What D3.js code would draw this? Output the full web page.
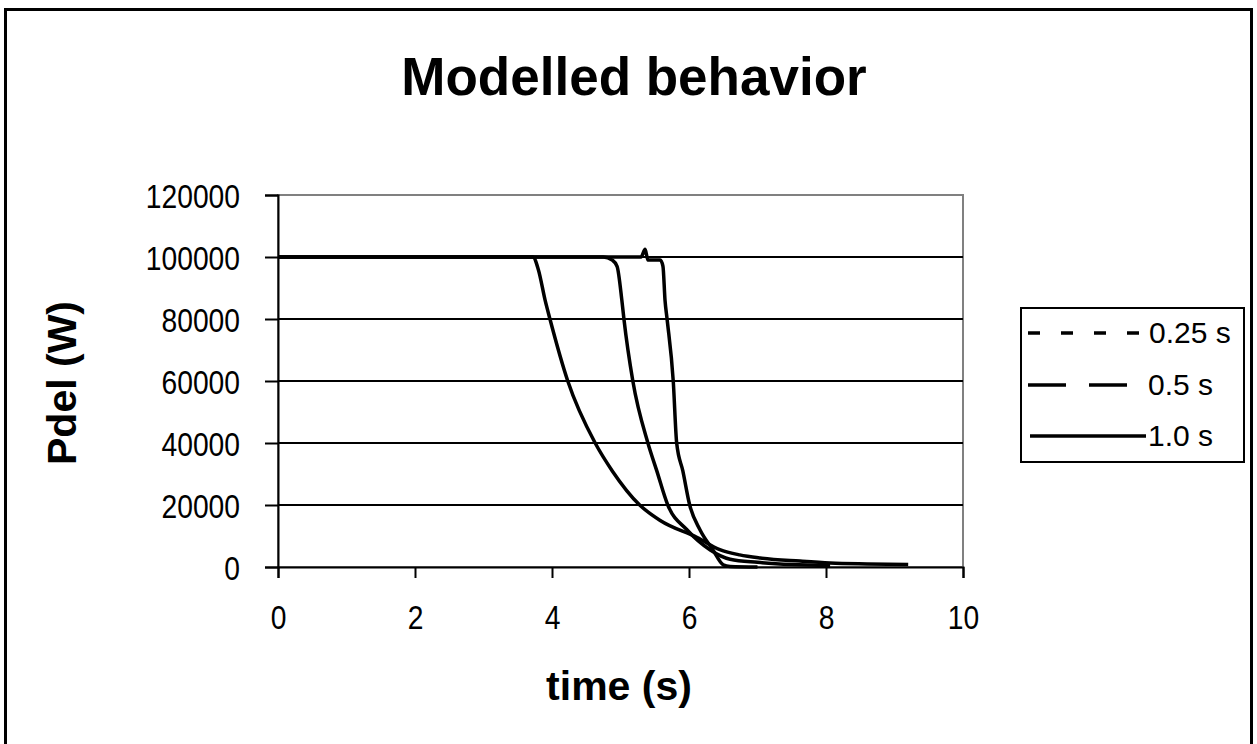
<!DOCTYPE html>
<html><head><meta charset="utf-8">
<script src="https://cdn.jsdelivr.net/npm/d3@7/dist/d3.min.js"></script>
<style>body{margin:0;background:#fff}svg{display:block}</style>
</head><body>
<svg id="c" width="1257" height="744"></svg>
<script>
// ---- data ----
const xTicks = [0, 2, 4, 6, 8, 10];
const yTicks = [0, 20000, 40000, 60000, 80000, 100000, 120000];
const seriesNames = ["0.25 s", "0.5 s", "1.0 s"];
const t025 = [0, 5.30, 5.36, 5.40, 5.58, 5.62, 5.65, 5.68, 5.77, 5.82, 5.91, 6.01, 6.16, 6.35, 6.50, 6.60, 7.00];
const p025 = [100000, 100000, 102500, 99000, 99000, 97000, 86000, 80000, 60000, 40000, 31000, 20000, 12000, 5500, 700, 200, 0];
const t05 = [0, 4.75, 4.88, 4.95, 5.02, 5.05, 5.18, 5.40, 5.53, 5.69, 5.97, 6.31, 6.60, 7.00, 7.50, 8.06];
const p05 = [100000, 100000, 99000, 97000, 86000, 80000, 60000, 40000, 31000, 20000, 12000, 5500, 2500, 1500, 800, 500];
const t10 = [0, 3.72, 3.80, 3.90, 3.97, 4.23, 4.63, 4.88, 5.28, 5.58, 6.12, 6.45, 6.74, 7.04, 7.62, 8.06, 8.60, 9.20];
const p10 = [100000, 100000, 96000, 86000, 80000, 60000, 40000, 31000, 20000, 15000, 9500, 5600, 3900, 2900, 1900, 1300, 1000, 800];

const svg = d3.select("#c");
const F = "'Liberation Sans', Arial, sans-serif";

// outer frame
svg.append("rect").attr("x", 5.5).attr("y", 9.5).attr("width", 1246).attr("height", 760)
  .attr("fill", "none").attr("stroke", "#000").attr("stroke-width", 3);

const x = d3.scaleLinear().domain([0, 10]).range([278, 963]);
const y = d3.scaleLinear().domain([0, 120000]).range([567, 195]);

// plot border (top/right gray)
svg.append("rect").attr("x", x(0)).attr("y", y(120000)).attr("width", x(10) - x(0)).attr("height", y(0) - y(120000))
  .attr("fill", "none").attr("stroke", "#808080").attr("stroke-width", 2);

// gridlines
svg.append("g").selectAll("line").data(yTicks.filter(d => d > 0 && d < 120000)).join("line")
  .attr("x1", x(0)).attr("x2", x(10)).attr("y1", d => y(d)).attr("y2", d => y(d))
  .attr("stroke", "#000").attr("stroke-width", 2);

// axes
const yAxis = svg.append("g").attr("transform", `translate(${x(0)},0)`)
  .call(d3.axisLeft(y).tickValues(yTicks).tickFormat(d3.format("d")).tickSize(13).tickPadding(25));
const xAxis = svg.append("g").attr("transform", `translate(0,${y(0)})`)
  .call(d3.axisBottom(x).tickValues(xTicks).tickFormat(d3.format("d")).tickSize(11).tickPadding(10));
[yAxis, xAxis].forEach(g => {
  g.select(".domain").attr("stroke", "#000").attr("stroke-width", 2);
  g.selectAll(".tick line").attr("stroke", "#000").attr("stroke-width", 2);
  g.selectAll(".tick text").attr("fill", "#000").style("font-family", F).style("font-size", "34px");
});
yAxis.selectAll(".tick text").each(function () {
  const tx = +this.getAttribute("x");
  d3.select(this).attr("x", 0).attr("dy", "0.36em").attr("transform", `translate(${tx},0) scale(0.83,1)`);
});
xAxis.selectAll(".tick text").attr("y", 62).attr("dy", 0).attr("transform", "scale(0.83,1)");

// lines
const line = d3.line().x(d => x(d[0])).y(d => y(d[1])).curve(d3.curveMonotoneX);
const series = [d3.zip(t025, p025), d3.zip(t05, p05), d3.zip(t10, p10)];
svg.append("g").selectAll("path").data(series).join("path")
  .attr("d", line).attr("fill", "none").attr("stroke", "#000").attr("stroke-width", 3.5)
  .attr("stroke-linejoin", "miter");

// titles
svg.append("text").attr("x", 634).attr("y", 95).attr("text-anchor", "middle")
  .style("font-family", F).style("font-size", "53px").style("font-weight", "bold").text("Modelled behavior");
svg.append("text").attr("x", 619).attr("y", 700).attr("text-anchor", "middle")
  .style("font-family", F).style("font-size", "41px").style("font-weight", "bold").text("time (s)");
svg.append("text").attr("transform", "translate(76,383) rotate(-90)").attr("text-anchor", "middle")
  .style("font-family", F).style("font-size", "41px").style("font-weight", "bold").text("Pdel (W)");

// legend
svg.append("rect").attr("x", 1021).attr("y", 308).attr("width", 223).attr("height", 154)
  .attr("fill", "#fff").attr("stroke", "#000").attr("stroke-width", 2);
const dashes = ["12,21", "38,23", null];
const rowY = [333, 385, 436];
const lg = svg.append("g").selectAll("g").data(seriesNames).join("g");
lg.append("line").attr("x1", (d, i) => i === 2 ? 1030 : 1028).attr("x2", (d, i) => i === 2 ? 1146 : (i === 0 ? 1141 : 1128))
  .attr("y1", (d, i) => rowY[i]).attr("y2", (d, i) => rowY[i])
  .attr("stroke", "#000").attr("stroke-width", 3.5).attr("stroke-dasharray", (d, i) => dashes[i]);
lg.append("text").attr("x", (d, i) => i === 0 ? 1149 : 1148).attr("y", (d, i) => rowY[i] + 10)
  .style("font-family", F).style("font-size", "30px").text(d => d);
</script>
</body></html>
